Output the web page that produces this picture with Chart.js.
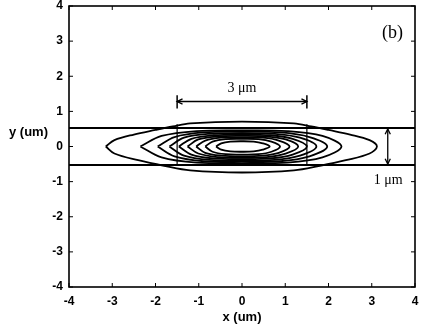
<!DOCTYPE html>
<html>
<head>
<meta charset="utf-8">
<script src="https://cdn.jsdelivr.net/npm/chart.js@4"></script>
<style>
  body { margin: 0; background: #fff; }
  canvas { display: block; }
</style>
</head>
<body>
<canvas id="modeChart" width="425" height="329"></canvas>
<script>
// --- Data (units: um) ---

const xTicks = [-4, -3, -2, -1, 0, 1, 2, 3, 4];
const yTicks = [-4, -3, -2, -1, 0, 1, 2, 3, 4];

// waveguide edges
const guideTop = [[-4, 0.53], [4, 0.53]];
const guideBottom = [[-4, -0.53], [4, -0.53]];
const ribLeft = [[-1.5, -0.53], [-1.5, 0.63]];
const ribRight = [[1.5, -0.53], [1.5, 0.63]];

// mode contours, outermost first
const contour1 = [[-3.15, 0], [-2.95, 0.18], [-2.5, 0.34], [-2.0, 0.47], [-1.6, 0.57], [-1.2, 0.66], [0, 0.71],
  [1.2, 0.66], [1.6, 0.57], [2.0, 0.47], [2.5, 0.34], [2.95, 0.18], [3.12, 0], [2.95, -0.2], [2.4, -0.39],
  [1.8, -0.55], [1.2, -0.68], [0, -0.74], [-1.2, -0.68], [-1.8, -0.55], [-2.4, -0.39], [-2.95, -0.2], [-3.15, 0]];
const contour2 = [[-2.35, 0], [-1.86, 0.30], [-1.05, 0.44], [0, 0.46], [1.05, 0.44], [1.86, 0.30], [2.3, 0],
  [1.86, -0.31], [1.05, -0.46], [0, -0.48], [-1.05, -0.46], [-1.86, -0.31], [-2.35, 0]];
const contour3 = [[-1.95, 0], [-1.56, 0.27], [-0.88, 0.40], [0, 0.42], [0.88, 0.40], [1.56, 0.27], [1.97, 0],
  [1.56, -0.28], [0.88, -0.42], [0, -0.44], [-0.88, -0.42], [-1.56, -0.28], [-1.95, 0]];
const contour4 = [[-1.68, 0], [-1.34, 0.25], [-0.76, 0.36], [0, 0.38], [0.76, 0.36], [1.34, 0.25], [1.72, 0],
  [1.34, -0.26], [0.76, -0.38], [0, -0.40], [-0.76, -0.38], [-1.34, -0.26], [-1.68, 0]];
const contour5 = [[-1.46, 0], [-1.17, 0.22], [-0.66, 0.32], [0, 0.34], [0.66, 0.32], [1.17, 0.22], [1.5, 0],
  [1.17, -0.23], [0.66, -0.34], [0, -0.36], [-0.66, -0.34], [-1.17, -0.23], [-1.46, 0]];
const contour6 = [[-1.26, 0], [-1.01, 0.20], [-0.57, 0.285], [0, 0.30], [0.57, 0.285], [1.01, 0.20], [1.3, 0],
  [1.01, -0.20], [0.57, -0.30], [0, -0.32], [-0.57, -0.30], [-1.01, -0.20], [-1.26, 0]];
const contour7 = [[-1.06, 0], [-0.85, 0.17], [-0.48, 0.25], [0, 0.26], [0.48, 0.25], [0.85, 0.17], [1.1, 0],
  [0.85, -0.18], [0.48, -0.26], [0, -0.28], [-0.48, -0.26], [-0.85, -0.18], [-1.06, 0]];
const contour8 = [[-0.85, 0], [-0.68, 0.14], [-0.38, 0.21], [0, 0.22], [0.38, 0.21], [0.68, 0.14], [0.88, 0],
  [0.68, -0.15], [0.38, -0.22], [0, -0.23], [-0.38, -0.22], [-0.68, -0.15], [-0.85, 0]];
const contour9 = [[-0.6, 0], [-0.48, 0.09], [-0.27, 0.14], [0, 0.15], [0.27, 0.14], [0.48, 0.09], [0.64, 0],
  [0.48, -0.09], [0.27, -0.14], [0, -0.15], [-0.27, -0.14], [-0.48, -0.09], [-0.6, 0]];
const contours = [contour1, contour2, contour3, contour4, contour5, contour6, contour7, contour8, contour9];

// dimension markers
const widthBar = [[-1.5, 1.28], [1.5, 1.28]];
const widthEndL = [[-1.5, 1.08], [-1.5, 1.46]];
const widthEndR = [[1.5, 1.08], [1.5, 1.46]];
const heightBar = [[3.37, 0.5], [3.37, -0.5]];

const labels = [
  { text: '3 \u03bcm', x: 0, y: 1.66, size: 14 },
  { text: '1 \u03bcm', x: 3.38, y: -0.95, size: 14 },
  { text: '(b)', x: 3.48, y: 3.22, size: 18 }
];

// --- Chart ---

const toPts = arr => arr.map(p => ({ x: p[0], y: p[1] }));

function lineSet(arr, width, tension) {
  return {
    data: toPts(arr),
    showLine: true,
    borderColor: '#000',
    borderWidth: width,
    pointRadius: 0,
    tension: tension,
    fill: false
  };
}

const datasets = [];
contours.forEach(c => datasets.push(lineSet(c, 1.8, 0.35)));
datasets.push(lineSet(guideTop, 2, 0));
datasets.push(lineSet(guideBottom, 2, 0));
datasets.push(lineSet(ribLeft, 1.2, 0));
datasets.push(lineSet(ribRight, 1.2, 0));
datasets.push(lineSet(widthBar, 1.5, 0));
datasets.push(lineSet(widthEndL, 1.5, 0));
datasets.push(lineSet(widthEndR, 1.5, 0));
datasets.push(lineSet(heightBar, 1.3, 0));

// arrowheads, inward ticks, frame and free text
const decorations = {
  id: 'decorations',
  afterDatasetsDraw(chart) {
    const { ctx, chartArea: a, scales: { x, y } } = chart;
    ctx.save();
    ctx.strokeStyle = '#000';
    ctx.fillStyle = '#000';

    // frame
    ctx.lineWidth = 1.6;
    ctx.strokeRect(a.left, a.top, a.right - a.left, a.bottom - a.top);

    // inward ticks on all sides
    ctx.lineWidth = 1;
    ctx.beginPath();
    xTicks.forEach(v => {
      const px = x.getPixelForValue(v);
      ctx.moveTo(px, a.bottom); ctx.lineTo(px, a.bottom - 4);
      ctx.moveTo(px, a.top); ctx.lineTo(px, a.top + 4);
    });
    yTicks.forEach(v => {
      const py = y.getPixelForValue(v);
      ctx.moveTo(a.left, py); ctx.lineTo(a.left + 4, py);
      ctx.moveTo(a.right, py); ctx.lineTo(a.right - 4, py);
    });
    ctx.stroke();

    // arrowheads
    function head(p, q) {
      // tip at p, pointing away from q
      const px = x.getPixelForValue(p[0]), py = y.getPixelForValue(p[1]);
      const qx = x.getPixelForValue(q[0]), qy = y.getPixelForValue(q[1]);
      const ang = Math.atan2(py - qy, px - qx);
      ctx.beginPath();
      ctx.moveTo(px - 6 * Math.cos(ang - 0.45), py - 6 * Math.sin(ang - 0.45));
      ctx.lineTo(px, py);
      ctx.lineTo(px - 6 * Math.cos(ang + 0.45), py - 6 * Math.sin(ang + 0.45));
      ctx.stroke();
    }
    ctx.lineWidth = 1.3;
    head(widthBar[0], widthBar[1]);
    head(widthBar[1], widthBar[0]);
    head(heightBar[0], heightBar[1]);
    head(heightBar[1], heightBar[0]);

    // serif annotations
    ctx.textAlign = 'center';
    ctx.textBaseline = 'middle';
    labels.forEach(l => {
      ctx.font = l.size + 'px "Liberation Serif", "Times New Roman", serif';
      ctx.fillText(l.text, x.getPixelForValue(l.x), y.getPixelForValue(l.y));
    });

    // y axis title, horizontal
    ctx.font = 'bold 13px "Liberation Sans", Arial, sans-serif';
    ctx.textAlign = 'left';
    ctx.fillText('y (um)', 9, 132);
    ctx.restore();
  }
};

const tickFont = { family: '"Liberation Sans", Arial, sans-serif', size: 12, weight: 'bold', lineHeight: 1 };

new Chart(document.getElementById('modeChart'), {
  type: 'scatter',
  data: { datasets: datasets },
  options: {
    responsive: false,
    animation: false,
    layout: { padding: { top: 0, right: 10, left: 0, bottom: 0 } },
    plugins: { legend: { display: false }, tooltip: { enabled: false } },
    scales: {
      x: {
        type: 'linear',
        min: -4,
        max: 4,
        afterFit: s => { s.height = 42; },
        afterBuildTicks: s => { s.ticks = xTicks.map(v => ({ value: v })); },
        ticks: { font: tickFont, color: '#000', padding: 3 },
        grid: { display: false, drawTicks: true, tickLength: 6 },
        border: { display: false },
        title: { display: true, text: 'x (um)', color: '#000', font: { family: tickFont.family, size: 13, weight: 'bold' }, padding: { top: 0 } }
      },
      y: {
        type: 'linear',
        min: -4,
        max: 4,
        afterFit: s => { s.width = 69; },
        afterBuildTicks: s => { s.ticks = yTicks.map(v => ({ value: v })); },
        ticks: { font: tickFont, color: '#000', padding: 0 },
        grid: { display: false, drawTicks: true, tickLength: 6 },
        border: { display: false }
      }
    }
  },
  plugins: [decorations]
});
</script>
</body>
</html>
